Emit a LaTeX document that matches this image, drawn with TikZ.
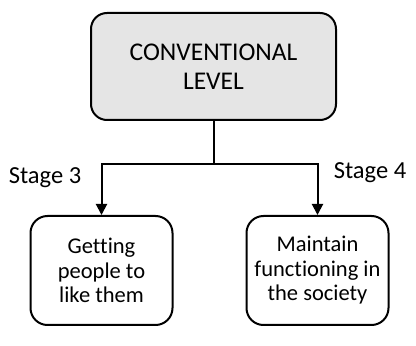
\documentclass[tikz,border=0pt]{standalone}
\usepackage{fontspec}
\setmainfont{Carlito}[Ligatures=NoCommon]
\usetikzlibrary{arrows.meta,positioning,calc}
\tikzset{
  levelbox/.style={draw, line width=2pt, rounded corners=16pt, align=center, fill=black!10, minimum width=245pt, minimum height=107pt, font=\fontsize{25.5}{29}\selectfont},
  stagebox/.style={draw, line width=2pt, rounded corners=17pt, align=center, fill=white, minimum width=142pt, minimum height=109pt, font=\fontsize{22.5}{24.5}\selectfont},
  stagelabel/.style={font=\fontsize{24.5}{28}\selectfont, inner sep=0pt},
  treearrow/.style={-{Triangle[width=11pt,length=11pt]}, line width=2pt},
  treeline/.style={line width=2pt}
}
\begin{document}
\begin{tikzpicture}
\useasboundingbox (0,0) rectangle (416pt,346pt);
\node[levelbox] (level) at (213.5pt,279.5pt) {CONVENTIONAL\\LEVEL};
\node[stagebox] (like) at (101.5pt,75.5pt) {Getting\\people to\\like them};
\node[stagebox] (society) at (317.5pt,75.5pt) {Maintain\\functioning in\\the society};
\coordinate (split) at ($(level.south)+(0,-43pt)$);
\draw[treeline] (level.south) -- (split);
\draw[treearrow] (split) -| (like.north);
\draw[treearrow] (split) -| (society.north);
\node[stagelabel] (stage3) at (45pt,168pt) {Stage 3};
\node[stagelabel] (stage4) at (370pt,173pt) {Stage 4};
\end{tikzpicture}
\end{document}
